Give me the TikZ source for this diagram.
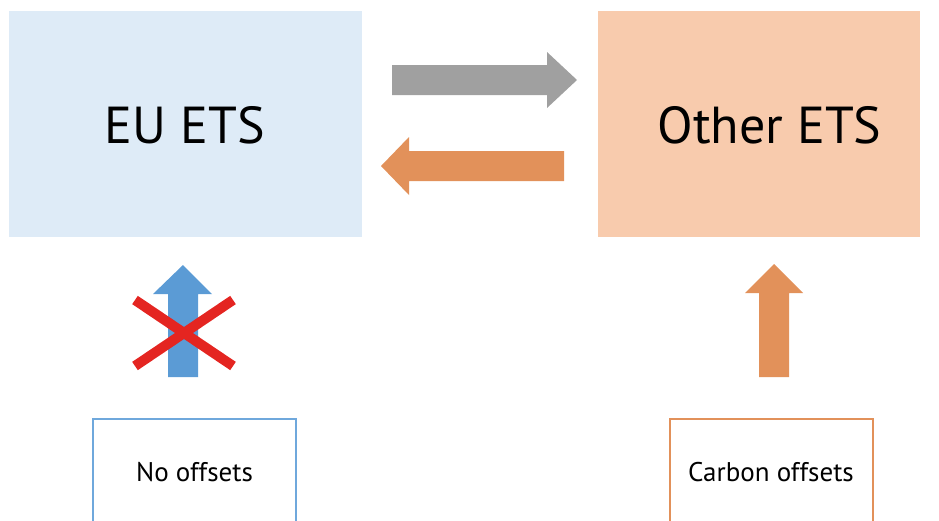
\documentclass[tikz,border=0pt]{standalone}
\usepackage{fontspec}
\setmainfont{PT Sans}
\definecolor{eufill}{HTML}{DEEBF7}
\definecolor{otherfill}{HTML}{F8CBAD}
\definecolor{arrowgray}{HTML}{A0A0A0}
\definecolor{arroworange}{HTML}{E2915A}
\definecolor{arrowblue}{HTML}{5B9BD5}
\definecolor{crossred}{HTML}{E42521}
\definecolor{lineblue}{HTML}{6FA8DC}
\tikzstyle{etsbox} = [shape=rectangle, inner sep=0pt, minimum height=226pt]
\tikzstyle{etslabel} = [inner sep=0pt, font={\fontsize{52}{62}\selectfont}, text=black]
\tikzstyle{offsetbox} = [shape=rectangle, inner sep=0pt, fill=white, line width=2pt, minimum width=203pt, minimum height=107pt, font={\fontsize{27}{32}\selectfont}, text=black]

\begin{document}
\begin{tikzpicture}[x=1pt,y=-1pt]
\useasboundingbox (0,0) rectangle (939,520);

\node[etsbox, fill=eufill, minimum width=353pt] (eu) at (185.5,124) {};
\node[etsbox, fill=otherfill, minimum width=322pt] (other) at (759,124) {};
\node[etslabel] (eutext) at (185,125.5) {EU ETS};
\node[etslabel] (othertext) at (769.5,125.5) {Other ETS};

\node[offsetbox, draw=lineblue] (nooff) at (194.5,472.5) {No offsets};
\node[offsetbox, draw=arroworange] (carbon) at (771,472.5) {Carbon offsets};

% arrows between the two systems
\fill[arrowgray] (392,65) -- (547,65) -- (547,52) -- (577,80) -- (547,108) -- (547,95) -- (392,95) -- cycle;
\fill[arroworange] (564,151) -- (409,151) -- (409,137) -- (381,166) -- (409,195) -- (409,181) -- (564,181) -- cycle;

% arrows from the offsets
\fill[arrowblue] (168,377) -- (168,294) -- (153,294) -- (183,265) -- (212,294) -- (198,294) -- (198,377) -- cycle;
\fill[arroworange] (759,377) -- (759,293) -- (745,293) -- (774,264) -- (803,293) -- (789,293) -- (789,377) -- cycle;

\draw[crossred, line width=10pt] (135,300) -- (233,366);
\draw[crossred, line width=10pt] (135,366) -- (233,300);
\end{tikzpicture}
\end{document}
